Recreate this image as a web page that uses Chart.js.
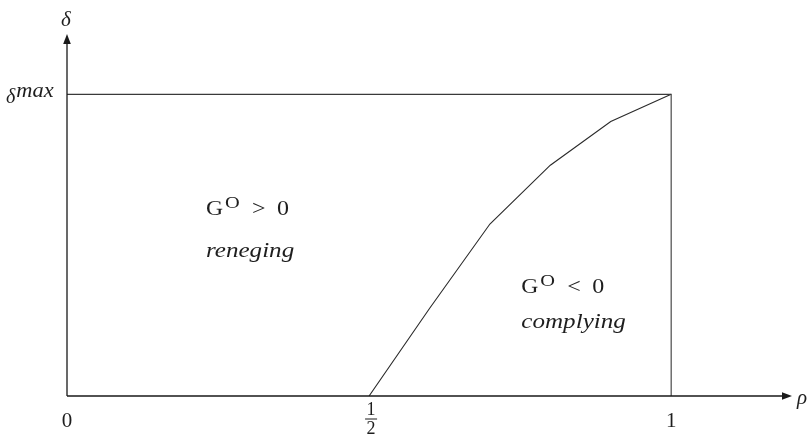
<!DOCTYPE html>
<html><head><meta charset="utf-8">
<script src="https://cdn.jsdelivr.net/npm/chart.js@4"></script>
<style>html,body{margin:0;padding:0;background:#fff}#wrap{width:808px;height:435px}</style>
</head><body><div id="wrap"><canvas id="c" width="808" height="435"></canvas></div>
<script>
// Boundary curve G^O = 0
const rho = [0.5, 0.6, 0.7, 0.8, 0.9, 1.0];
const delta = [0, 0.29, 0.57, 0.765, 0.91, 1.0];
// Box: delta = delta^max and rho = 1
const boxRho = [0, 1, 1];
const boxDelta = [1, 1, 0];
const axisMax = 1.2;
const xTickValues = [0, 0.5, 1];
const xTickLabels = ['0', '1/2', '1'];
const yTickValues = [1];
const yTickLabels = ['δ^max'];
const xTitle = 'ρ';
const yTitle = 'δ';
const regionLabels = [
  { sign: '>', word: 'reneging' },
  { sign: '<', word: 'complying' }
];

const SERIF = '"Liberation Serif", "DejaVu Serif", serif';

function stretchText(ctx, text, x, y, font, sx) {
  ctx.save();
  ctx.font = font;
  ctx.textAlign = 'left';
  ctx.translate(x, y);
  ctx.scale(sx, 1);
  ctx.fillText(text, 0, 0);
  ctx.restore();
}

const overlay = {
  id: 'overlay',
  afterDatasetsDraw(chart) {
    const ctx = chart.ctx;
    const xs = chart.scales.x, ys = chart.scales.y;
    const px = v => xs.getPixelForValue(v);
    const py = v => ys.getPixelForValue(v);
    const x0 = px(0), y0 = py(0);
    const xEnd = px(axisMax), yEnd = py(axisMax);
    ctx.save();
    // axes
    ctx.strokeStyle = '#1a1a1a';
    ctx.fillStyle = '#1a1a1a';
    ctx.lineWidth = 1.3;
    ctx.beginPath();
    ctx.moveTo(x0, y0); ctx.lineTo(xEnd - 6, y0);
    ctx.moveTo(x0, y0); ctx.lineTo(x0, yEnd + 6);
    ctx.stroke();
    // arrowheads
    ctx.beginPath();
    ctx.moveTo(xEnd, y0); ctx.lineTo(xEnd - 10, y0 - 3.8); ctx.lineTo(xEnd - 10, y0 + 3.8); ctx.closePath();
    ctx.fill();
    ctx.beginPath();
    ctx.moveTo(x0, yEnd); ctx.lineTo(x0 - 3.8, yEnd + 10); ctx.lineTo(x0 + 3.8, yEnd + 10); ctx.closePath();
    ctx.fill();

    ctx.fillStyle = '#1e1e1e';
    ctx.textBaseline = 'alphabetic';
    // x tick labels
    xTickValues.forEach((v, i) => {
      const lab = xTickLabels[i];
      const cx = px(v);
      if (lab.includes('/')) {
        const [n, d] = lab.split('/');
        ctx.font = '18px ' + SERIF;
        ctx.textAlign = 'center';
        ctx.fillText(n, cx + 2, y0 + 19);
        ctx.fillText(d, cx + 2, y0 + 38);
        ctx.lineWidth = 1;
        ctx.beginPath();
        ctx.moveTo(cx - 4, y0 + 23); ctx.lineTo(cx + 8, y0 + 23);
        ctx.stroke();
      } else {
        ctx.font = '21px ' + SERIF;
        ctx.textAlign = 'center';
        ctx.fillText(lab, cx, y0 + 31);
      }
    });
    // y tick label delta^max
    yTickValues.forEach((v, i) => {
      const [base, sup] = yTickLabels[i].split('^');
      const cy = py(v);
      ctx.textAlign = 'left';
      ctx.font = 'italic 20px ' + SERIF;
      ctx.fillText(base, 6, cy + 9);
      const w = ctx.measureText(base).width;
      stretchText(ctx, sup, 6 + w + 1, cy + 3, 'italic 20px ' + SERIF, 1.12);
    });
    // axis titles
    ctx.font = 'italic 21px ' + SERIF;
    ctx.textAlign = 'center';
    ctx.fillText(yTitle, x0 - 1, yEnd - 8);
    ctx.textAlign = 'left';
    ctx.fillText(xTitle, xEnd + 5, y0 + 8);

    // region labels
    const drawRegion = (lab, xv, yTop, yBot) => {
      const lx = px(xv);
      const by = py(yTop);
      stretchText(ctx, 'G', lx, by, '20px ' + SERIF, 1.18);
      stretchText(ctx, 'O', lx + 19, by - 7, '17px ' + SERIF, 1.2);
      stretchText(ctx, lab.sign, lx + 46, by, '20px ' + SERIF, 1.2);
      stretchText(ctx, '0', lx + 71, by, '20px ' + SERIF, 1.2);
      stretchText(ctx, lab.word, lx, py(yBot), 'italic 22px ' + SERIF, 1.14);
    };
    drawRegion(regionLabels[0], 0.23, 0.60, 0.46);
    drawRegion(regionLabels[1], 0.752, 0.341, 0.225);
    ctx.restore();
  }
};

const pts = (xa, ya) => xa.map((x, i) => ({ x: x, y: ya[i] }));

new Chart(document.getElementById('c'), {
  type: 'scatter',
  data: {
    datasets: [
      { data: pts(boxRho, boxDelta), showLine: true, borderColor: '#3a3a3a', borderWidth: 1.1, pointRadius: 0, fill: false },
      { data: pts(rho, delta), showLine: true, borderColor: '#2a2a2a', borderWidth: 1.1, pointRadius: 0, fill: false, tension: 0 }
    ]
  },
  options: {
    responsive: false,
    devicePixelRatio: 1,
    animation: false,
    layout: { padding: { left: 67, right: 16, top: 34, bottom: 39 } },
    plugins: { legend: { display: false }, tooltip: { enabled: false } },
    scales: {
      x: { type: 'linear', min: 0, max: axisMax, display: false },
      y: { type: 'linear', min: 0, max: axisMax, display: false }
    }
  },
  plugins: [overlay]
});
</script>
</body></html>
